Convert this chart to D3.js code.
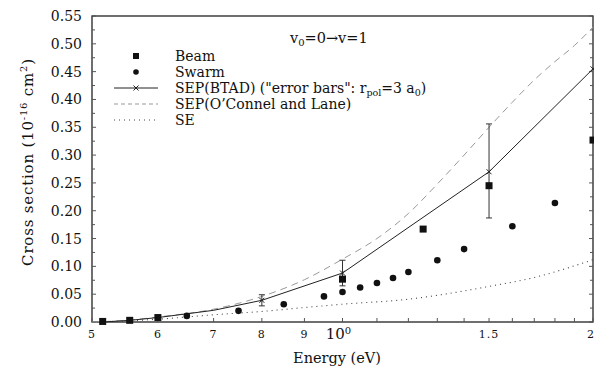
<!DOCTYPE html>
<html>
<head>
<meta charset="utf-8">
<script src="https://cdn.jsdelivr.net/npm/d3@7"></script>
<style>
body { margin:0; background:#fff; }
</style>
</head>
<body>
<svg id="chart" width="594" height="368"></svg>
<script>
// ## data (energy in eV, cross section in 1e-16 cm2)
var beamE = [5.15, 5.55, 6, 10, 12.5, 15, 20];
var beamV = [0.001, 0.003, 0.008, 0.077, 0.167, 0.245, 0.327];

var swarmE = [6.5, 7.5, 8.5, 9.5, 10, 10.5, 11, 11.5, 12, 13, 14, 16, 18];
var swarmV = [0.011, 0.020, 0.032, 0.046, 0.054, 0.062, 0.070, 0.079, 0.090, 0.111, 0.131, 0.172, 0.214];

var btadE = [5.15, 5.55, 6, 7, 8, 10, 15, 20];
var btadV = [0.000, 0.003, 0.008, 0.021, 0.039, 0.088, 0.270, 0.455];
var btadMark = [true, true, true, false, true, true, true, true];
// error bars (rpol = 3 a0)
var errE = [8, 10, 15];
var errLo = [0.029, 0.065, 0.187];
var errHi = [0.049, 0.111, 0.356];

var oclE = [5, 5.5, 6, 7, 8, 9, 10, 11, 12, 13, 14, 15, 16, 17, 18, 19, 20];
var oclV = [0.0, 0.003, 0.009, 0.023, 0.046, 0.076, 0.113, 0.150, 0.195, 0.248, 0.300, 0.350, 0.395, 0.435, 0.468, 0.497, 0.530];

var seE = [5, 5.5, 6, 7, 8, 9, 10, 12, 13, 15, 17, 20];
var seV = [0.0, 0.002, 0.005, 0.013, 0.019, 0.026, 0.032, 0.041, 0.048, 0.064, 0.080, 0.112];

var xTickVals = [5, 6, 7, 8, 9, 10, 11, 12, 13, 14, 15, 16, 17, 18, 19, 20];
var xLabelVals = [5, 6, 7, 8, 9, 10, 15, 20];
var xLabelTxt = ["5", "6", "7", "8", "9", "10", "1.5", "2"];
var yTickVals = d3.range(0, 0.5501, 0.05);
var yMinorVals = d3.range(0.025, 0.55, 0.05);

var legendNames = ["Beam", "Swarm", "SEP(BTAD) (\"error bars\": ", "SEP(O\u2019Connel and Lane)", "SE"];

// only DejaVu Serif comes out as a serif face here
var svg = d3.select("#chart").style("font-family", "DejaVu Serif");
var L = 92, R = 593, T = 16, B = 322;

var x = d3.scaleLog().domain([5, 20]).range([L, R]);
var y = d3.scaleLinear().domain([0, 0.55]).range([B, T]);

function zip(a, b) { return a.map(function (d, i) { return [d, b[i]]; }); }

//## frame
svg.append("rect")
    .attr("x", L).attr("y", T)
    .attr("width", R - L).attr("height", B - T)
    .attr("fill", "none").attr("stroke", "#222").attr("stroke-width", 1.3);

//## ticks (inward)
var tk = svg.append("g").attr("stroke", "#555").attr("stroke-width", 1);
xTickVals.forEach(function (v) {
    tk.append("line").attr("x1", x(v)).attr("x2", x(v)).attr("y1", B).attr("y2", B - 4);
});
yTickVals.forEach(function (v) {
    tk.append("line").attr("x1", L).attr("x2", L + 4).attr("y1", y(v)).attr("y2", y(v));
    tk.append("line").attr("x1", R).attr("x2", R - 4).attr("y1", y(v)).attr("y2", y(v));
});
yMinorVals.forEach(function (v) {
    tk.append("line").attr("x1", L).attr("x2", L + 3).attr("y1", y(v)).attr("y2", y(v));
    tk.append("line").attr("x1", R).attr("x2", R - 3).attr("y1", y(v)).attr("y2", y(v));
});

//## tick labels
svg.selectAll(".ylab").data(yTickVals).enter().append("text")
    .attr("class", "ylab")
    .attr("x", L - 10).attr("y", function (d) { return y(d) + 5; })
    .attr("text-anchor", "end").attr("font-size", 14).attr("fill", "#111")
    .text(function (d) { return d.toFixed(2); });

xLabelVals.forEach(function (v, i) {
    var t = svg.append("text")
        .attr("x", x(v)).attr("y", 338)
        .attr("text-anchor", "middle").attr("fill", "#111");
    if (v == 10) {
        t.attr("font-size", 15).attr("x", x(v) - 4).attr("y", 339);
        t.append("tspan").text("10");
        t.append("tspan").attr("font-size", 10).attr("dy", -5).text("0");
    } else if (v == 20) {
        t.attr("font-size", 11).attr("text-anchor", "end").attr("x", 594).text(xLabelTxt[i]);
    } else {
        t.attr("font-size", 11).attr("letter-spacing", 1).text(xLabelTxt[i]);
    }
});

//## axis titles
svg.append("text")
    .attr("x", 337).attr("y", 363)
    .attr("text-anchor", "middle").attr("font-size", 14.5).attr("fill", "#111")
    .text("Energy (eV)");

var yt = svg.append("text")
    .attr("transform", "translate(33,162) rotate(-90)")
    .attr("text-anchor", "middle").attr("font-size", 15).attr("fill", "#111")
    .attr("letter-spacing", 0.8);
yt.append("tspan").text("Cross section (10");
yt.append("tspan").attr("font-size", 10).attr("dy", -6).text("-16");
yt.append("tspan").attr("dy", 6).text(" cm");
yt.append("tspan").attr("font-size", 10).attr("dy", -6).text("2");
yt.append("tspan").attr("dy", 6).text(")");

//## annotation
var an = svg.append("text")
    .attr("x", 290).attr("y", 43).attr("font-size", 14.5).attr("fill", "#111");
an.append("tspan").text("v");
an.append("tspan").attr("font-size", 10).attr("dy", 3).text("0");
an.append("tspan").attr("dy", -3).text("=0\u2192v=1");

//## curves
var line = d3.line()
    .x(function (d) { return x(d[0]); })
    .y(function (d) { return y(d[1]); });
var smooth = d3.line()
    .x(function (d) { return x(d[0]); })
    .y(function (d) { return y(d[1]); })
    .curve(d3.curveMonotoneX);

svg.append("path").datum(zip(seE, seV))
    .attr("d", smooth).attr("fill", "none")
    .attr("stroke", "#444").attr("stroke-width", 1.1).attr("stroke-dasharray", "1,4");

svg.append("path").datum(zip(oclE, oclV))
    .attr("d", smooth).attr("fill", "none")
    .attr("stroke", "#999").attr("stroke-width", 1).attr("stroke-dasharray", "7,5");

svg.append("path").datum(zip(btadE, btadV))
    .attr("d", line).attr("fill", "none")
    .attr("stroke", "#222").attr("stroke-width", 1);

//## error bars
var eb = svg.append("g").attr("stroke", "#333").attr("stroke-width", 1);
errE.forEach(function (e, i) {
    eb.append("line").attr("x1", x(e)).attr("x2", x(e)).attr("y1", y(errLo[i])).attr("y2", y(errHi[i]));
    [errLo[i], errHi[i]].forEach(function (v) {
        eb.append("line").attr("x1", x(e) - 3).attr("x2", x(e) + 3).attr("y1", y(v)).attr("y2", y(v));
    });
});

//## x markers
function cross(g, cx, cy, s) {
    g.append("path")
        .attr("d", "M" + (cx - s) + "," + (cy - s) + "L" + (cx + s) + "," + (cy + s) +
                   "M" + (cx - s) + "," + (cy + s) + "L" + (cx + s) + "," + (cy - s))
        .attr("stroke", "#222").attr("stroke-width", 1).attr("fill", "none");
}
var mk = svg.append("g");
btadE.forEach(function (e, i) {
    if (btadMark[i]) cross(mk, x(e), y(btadV[i]), 2.5);
});

//## data points
svg.selectAll(".sw").data(zip(swarmE, swarmV)).enter().append("circle")
    .attr("class", "sw")
    .attr("cx", function (d) { return x(d[0]); })
    .attr("cy", function (d) { return y(d[1]); })
    .attr("r", 3.3).attr("fill", "#111");

svg.selectAll(".bm").data(zip(beamE, beamV)).enter().append("rect")
    .attr("class", "bm")
    .attr("x", function (d) { return x(d[0]) - 3.5; })
    .attr("y", function (d) { return y(d[1]) - 3.5; })
    .attr("width", 7).attr("height", 7).attr("fill", "#111");

//## legend
var legendY0 = 56, legendStep = 16, lx0 = 114, lx1 = 158, ltx = 175;
var lg = svg.append("g");
legendNames.forEach(function (name, i) {
    var cy = legendY0 + i * legendStep;
    var mid = (lx0 + lx1) / 2;
    if (i == 0) {
        lg.append("rect").attr("x", mid - 3).attr("y", cy - 3).attr("width", 6).attr("height", 6).attr("fill", "#111");
    } else if (i == 1) {
        lg.append("circle").attr("cx", mid).attr("cy", cy).attr("r", 2.8).attr("fill", "#111");
    } else {
        var l = lg.append("line").attr("x1", lx0).attr("x2", lx1).attr("y1", cy).attr("y2", cy);
        if (i == 2) { l.attr("stroke", "#222"); cross(lg, mid, cy, 2.5); }
        if (i == 3) l.attr("stroke", "#999").attr("stroke-dasharray", "4,3");
        if (i == 4) l.attr("stroke", "#444").attr("stroke-dasharray", "1,4");
    }
    var t = lg.append("text").attr("x", ltx).attr("y", cy + 5)
        .attr("font-size", 14).attr("fill", "#111").text(name);
    if (i == 2) {
        t.append("tspan").text("r");
        t.append("tspan").attr("font-size", 9.5).attr("dy", 3).text("pol");
        t.append("tspan").attr("dy", -3).text("=3 a");
        t.append("tspan").attr("font-size", 9.5).attr("dy", 3).text("0");
        t.append("tspan").attr("dy", -3).text(")");
    }
});
</script>
</body>
</html>
